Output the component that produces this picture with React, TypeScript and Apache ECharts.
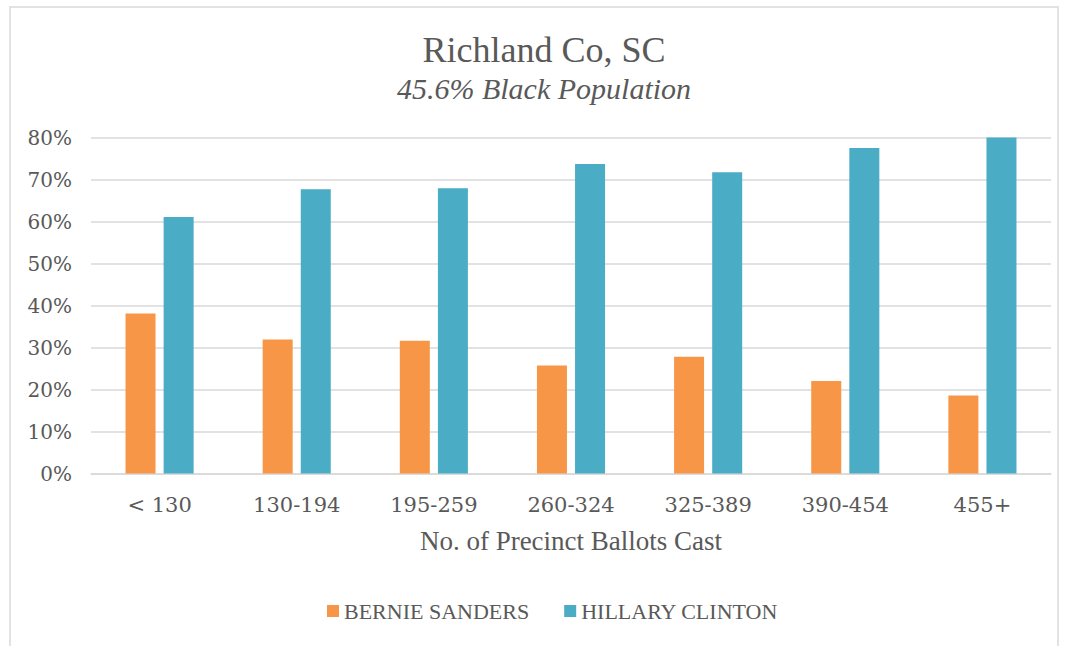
import React, { useEffect, useRef } from "react";
import * as echarts from "echarts";

const categories = ["< 130", "130-194", "195-259", "260-324", "325-389", "390-454", "455+"];
const bernie = [38.1, 31.9, 31.6, 25.7, 27.8, 22.0, 18.6];
const hillary = [61.1, 67.7, 67.9, 73.7, 71.7, 77.5, 80.3];
const yTicks = [0, 10, 20, 30, 40, 50, 60, 70, 80];
const titleText = "Richland Co, SC";
const subtitleText = "45.6% Black Population";
const seriesNames = ["BERNIE SANDERS", "HILLARY CLINTON"];

const FONT = "Liberation Serif";
const TICKFONT = "DejaVu Serif";
const TXT = "#595959";

export default function App() {
  const ref = useRef<HTMLDivElement>(null);
  useEffect(() => {
    document.body.style.margin = "0";
    const chart = echarts.init(ref.current!, undefined, { renderer: "svg" });
    chart.setOption({
      animation: false,
      backgroundColor: "#ffffff",
      textStyle: { fontFamily: FONT, color: TXT },
      graphic: [
        {
          type: "rect",
          shape: { x: 10, y: 7, width: 1048, height: 650 },
          style: { fill: "none", stroke: "#D9D9D9", lineWidth: 1.5 },
          silent: true,
        },
        {
          type: "text",
          x: 544,
          y: 32,
          style: {
            text: titleText,
            align: "center",
            verticalAlign: "top",
            fontFamily: FONT,
            fontSize: 36,
            fill: TXT,
          },
        },
        {
          type: "text",
          x: 544,
          y: 73,
          style: {
            text: subtitleText,
            align: "center",
            verticalAlign: "top",
            fontFamily: FONT,
            fontSize: 30,
            fontStyle: "italic",
            fill: TXT,
          },
        },
      ],
      legend: {
        bottom: 19,
        left: 322,
        itemWidth: 12,
        itemHeight: 12,
        itemGap: 35,
        icon: "rect",
        textStyle: { fontFamily: FONT, fontSize: 22, color: TXT },
        data: seriesNames,
      },
      grid: { left: 91, right: 17, top: 137.5, bottom: 172.5 },
      xAxis: {
        type: "category",
        data: categories,
        name: "No. of Precinct Ballots Cast",
        nameLocation: "middle",
        nameGap: 54,
        nameTextStyle: { fontFamily: FONT, fontSize: 27, color: TXT },
        axisTick: { show: false },
        axisLine: { lineStyle: { color: "#D9D9D9", width: 1.5 } },
        axisLabel: { fontFamily: TICKFONT, fontSize: 21, color: TXT, margin: 21, interval: 0 },
      },
      yAxis: {
        type: "value",
        min: yTicks[0],
        max: yTicks[yTicks.length - 1],
        interval: 10,
        axisLabel: { formatter: "{value}%", fontFamily: TICKFONT, fontSize: 20, color: TXT, margin: 19 },
        splitLine: { lineStyle: { color: "#D9D9D9", width: 1.5 } },
        axisLine: { show: false },
        axisTick: { show: false },
      },
      series: [
        {
          name: seriesNames[0],
          type: "bar",
          data: bernie,
          barWidth: 30,
          barGap: "27%",
          itemStyle: { color: "#F79646" },
        },
        {
          name: seriesNames[1],
          type: "bar",
          data: hillary,
          barWidth: 30,
          barGap: "27%",
          itemStyle: { color: "#4BACC6" },
        },
      ],
    });
    return () => chart.dispose();
  }, []);
  return <div ref={ref} style={{ width: 1068, height: 646 }} />;
}
